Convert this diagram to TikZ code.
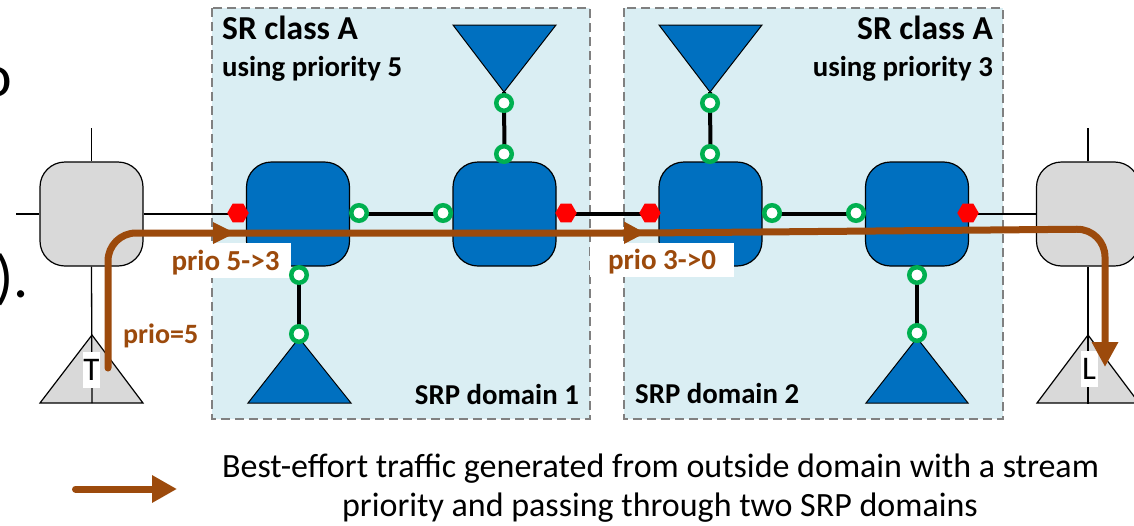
\documentclass[tikz,border=0pt]{standalone}
\usepackage{fontspec}
\setmainfont{Carlito}
\usetikzlibrary{arrows.meta,shapes.geometric}
\definecolor{domfill}{HTML}{DAEEF3}
\definecolor{domline}{HTML}{808080}
\definecolor{swblue}{HTML}{0070C0}
\definecolor{swgray}{HTML}{D9D9D9}
\definecolor{portgreen}{HTML}{00B050}
\definecolor{flowbrown}{HTML}{9C4A0C}
\newcommand{\fs}[1]{\fontsize{#1}{#1}\selectfont}
\begin{document}
\begin{tikzpicture}[x=1pt,y=-1pt,
  domainbox/.style={draw=domline, fill=domfill, line width=1.5pt, dash pattern=on 9pt off 5pt},
  switchbase/.style={draw=black, line width=1.2pt, rounded corners=25pt, minimum width=103pt, minimum height=104pt, inner sep=0pt},
  blueswitch/.style={switchbase, fill=swblue},
  grayswitch/.style={switchbase, fill=swgray},
  gport/.style={circle, draw=portgreen, fill=white, line width=4.5pt, minimum size=15.5pt, inner sep=0pt},
  rport/.style={regular polygon, regular polygon sides=6, fill=red, minimum size=21.5pt, inner sep=0pt},
  trunk/.style={draw=black, line width=4pt},
  thinlink/.style={draw=black, line width=1.3pt},
  bluetri/.style={fill=swblue, draw=black, line width=1pt},
  graytri/.style={fill=swgray, draw=black, line width=1.2pt},
  flow/.style={draw=flowbrown, line width=7pt},
  flowlabel/.style={fill=white, text=flowbrown, font=\fs{29}\bfseries, inner sep=0pt},
  domtext/.style={font=\fs{33.5}\bfseries, inner sep=0pt},
  subtext/.style={font=\fs{28.8}\bfseries, inner sep=0pt},
  nametext/.style={font=\fs{28.8}\bfseries, inner sep=0pt},
  endlabel/.style={fill=white, font=\fs{33}, inner sep=0pt, minimum width=17pt, minimum height=36pt},
  legendtext/.style={font=\fs{34}, inner sep=0pt}
]
\useasboundingbox (0,0) rectangle (1134,525);
\fill[white] (0,0) rectangle (1134,525);

% partial slide text on the left edge
\begin{scope}
\clip (0,0) rectangle (1134,525);
\node[anchor=base west, inner sep=0pt, font=\fs{60}] (fragA) at (-20,96) {o};
\node[anchor=base west, inner sep=0pt, font=\fs{60}] (fragB) at (-5,297) {).};
\end{scope}

% SRP domains
\path[domainbox] (212,8) rectangle (590,419);
\path[domainbox] (624,8) rectangle (1003,419);

% domain texts
\node[domtext, anchor=base west] (d1title) at (222,39) {SR class A};
\node[subtext, anchor=base west] (d1prio) at (222,76) {using priority 5};
\node[nametext, anchor=base east] (d1name) at (579,404) {SRP domain 1};
\node[domtext, anchor=base east] (d2title) at (993,39) {SR class A};
\node[subtext, anchor=base east] (d2prio) at (993,76) {using priority 3};
\node[nametext, anchor=base west] (d2name) at (635,403) {SRP domain 2};

% end stations (gray)
\path[graytri] (40,403) -- (143,403) -- (92,335) -- cycle;
\coordinate (tTapex) at (92,335);
\coordinate (tTbase) at (92,403);
\path[graytri] (1037,403) -- (1139,403) -- (1088,335) -- cycle;
\coordinate (tLapex) at (1088,335);
\coordinate (tLbase) at (1088,404);

% outer gray bridges
\node[grayswitch] (g1) at (91.5,214) {};
\node[grayswitch] (g2) at (1088,214) {};
\draw[thinlink] (g1.north) -- ++(0,-33);
\draw[thinlink] (g1.west) -- ++(-23,0);
\draw[thinlink] (g1.south) -- (tTbase);
\draw[thinlink] (g2.north) -- ++(0,-33);
\draw[thinlink] (g2.south) -- (tLbase);

\node[endlabel] (T) at (91.5,370) {T};
\node[endlabel] (L) at (1089,369) {L};

% blue end stations
\path[bluetri] (453,25) -- (556,25) -- (504,92) -- cycle;
\coordinate (a1) at (504,92);
\path[bluetri] (248,403) -- (351,403) -- (299,338) -- cycle;
\coordinate (a2) at (299,338);
\path[bluetri] (659,25) -- (762,25) -- (710,92) -- cycle;
\coordinate (a3) at (710,92);
\path[bluetri] (866,403) -- (968,403) -- (917,338) -- cycle;
\coordinate (a4) at (917,338);

% blue bridges
\node[blueswitch] (s1) at (298,214) {};
\node[blueswitch] (s2) at (504.5,214) {};
\node[blueswitch] (s3) at (710.5,214) {};
\node[blueswitch] (s4) at (917,214) {};

% links
\draw[thinlink] (g1.east) -- (s1.west);
\draw[trunk] (s1.east) -- (s2.west);
\draw[trunk] (s2.east) -- (s3.west);
\draw[trunk] (s3.east) -- (s4.west);
\draw[thinlink] (s4.east) -- (g2.west);
\draw[trunk] (s2.north) -- (a1);
\draw[trunk] (s1.south -| a2) -- (a2);
\draw[trunk] (s3.north) -- (a3);
\draw[trunk] (s4.south) -- (a4);

% flow labels
\node[flowlabel, anchor=base, minimum width=131pt, text height=27pt, text depth=8pt] (lab1) at (225.5,270) {prio 5->3};
\node[flowlabel, anchor=base, minimum width=144pt, text height=26pt, text depth=8pt] (lab2) at (662,269) {prio 3->0};
\node[flowlabel, fill=none, font=\fs{28}\bfseries, anchor=base west] (lab0) at (123,343) {prio=5};

% flow path
\coordinate (fstart) at (108,368);
\coordinate (fend) at (1105,367);
\draw[flow, rounded corners=28pt, line cap=round, -{Triangle[length=25pt,width=25pt]}]
  (fstart) -- (108,233) -- (645,233) -- (1105,229) -- (fend);
\fill[flowbrown] (235,233) -- (213,222) -- (213,244) -- cycle;
\fill[flowbrown] (645,233) -- (624,221.5) -- (624,244) -- cycle;

% ports
\node[rport] (h1) at (238,213) {};
\node[gport] (p1) at (359,213) {};
\node[gport] (p2) at (443,213) {};
\node[gport] (p3) at (504,154) {};
\node[gport] (p4) at (504,103) {};
\node[gport] (p5) at (299,275) {};
\node[gport] (p6) at (299,334) {};
\node[rport] (h2) at (566,213) {};
\node[rport] (h3) at (650,213) {};
\node[gport] (q1) at (710,103) {};
\node[gport] (q2) at (710,154) {};
\node[gport] (q3) at (772,213) {};
\node[gport] (q4) at (856,213) {};
\node[gport] (q5) at (917,275) {};
\node[gport] (q6) at (917,333) {};
\node[rport] (h4) at (968,213) {};

% legend
\coordinate (lgA) at (75.5,489);
\coordinate (lgB) at (177,489);
\draw[flow, line cap=round, -{Triangle[length=25pt,width=26pt]}] (lgA) -- (lgB);
\node[legendtext, anchor=base] (lg1) at (660.5,477) {Best-effort traffic generated from outside domain with a stream};
\node[legendtext, anchor=base] (lg2) at (660,516) {priority and passing through two SRP domains};
\end{tikzpicture}
\end{document}
